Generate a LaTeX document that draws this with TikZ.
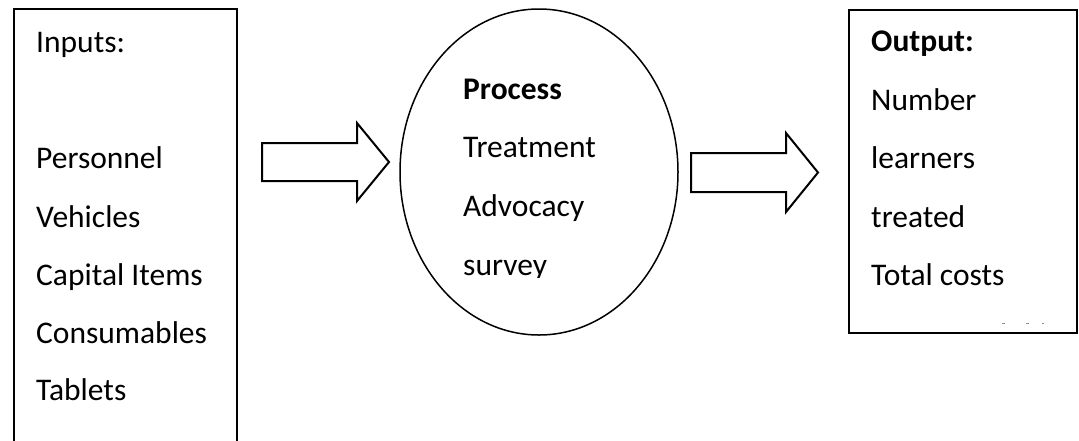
\documentclass[tikz,border=0pt]{standalone}
\usepackage{fontspec}
\setmainfont{Carlito}
\usetikzlibrary{shapes.geometric}
\begin{document}
\begin{tikzpicture}[x=1pt,y=-1pt,
  txt/.style={anchor=base west,inner sep=0pt,font=\fontsize{31.5}{36}\selectfont},
  bold/.style={txt,font=\fontsize{31.5}{36}\selectfont\bfseries},
  frame/.style={draw=black,line width=1.7pt,fill=none},
  blockarrow/.style={draw=black,line width=2pt,line join=miter,fill=white},
  dot/.style={fill=black!45,draw=none}]
\useasboundingbox (0,0) rectangle (1079,440);
\clip (0,0) rectangle (1079,440);
% left box (extends beyond bottom edge)
\draw[frame] (14,470) rectangle (237,9);
\node[txt] (in0) at (36,52) {Inputs:};
\node[txt] (in1) at (36,168) {Personnel};
\node[txt] (in2) at (36,227) {Vehicles};
\node[txt] (in3) at (36,285) {Capital Items};
\node[txt] (in4) at (36,343) {Consumables};
\node[txt] (in5) at (36,400) {Tablets};
% arrow 1
\draw[blockarrow] (262,143) -- (357,143) -- (357,123) -- (389,162) -- (357,201) -- (357,181) -- (262,181) -- cycle;
% ellipse
\node[draw=black,line width=1.5pt,ellipse,minimum width=278pt,minimum height=326pt,inner sep=0pt] (proc) at (539,172) {};
\node[bold] (p0) at (463,99) {Process};
\node[txt] (p1) at (463,157) {Treatment};
\node[txt] (p2) at (463,216) {Advocacy};
\begin{scope}
\clip (440,230) rectangle (660,277);
\node[txt] (p3) at (463,275) {survey};
\end{scope}
% arrow 2
\draw[blockarrow] (691,153) -- (786,153) -- (786,133) -- (818,172.5) -- (786,212) -- (786,192) -- (691,192) -- cycle;
% right box
\draw[frame] (849,10) rectangle (1077,333);
\node[bold] (o0) at (871,51) {Output:};
\node[txt] (o1) at (871,110) {Number};
\node[txt] (o2) at (871,168) {learners};
\node[txt] (o3) at (871,227) {treated};
\node[txt] (o4) at (871,285) {Total costs};
\fill[dot] (1002,322.5) rectangle (1004.5,324);
\fill[dot] (1026,322.5) rectangle (1028.5,324);
\fill[dot] (1042,322.5) rectangle (1044,324);
\end{tikzpicture}
\end{document}
